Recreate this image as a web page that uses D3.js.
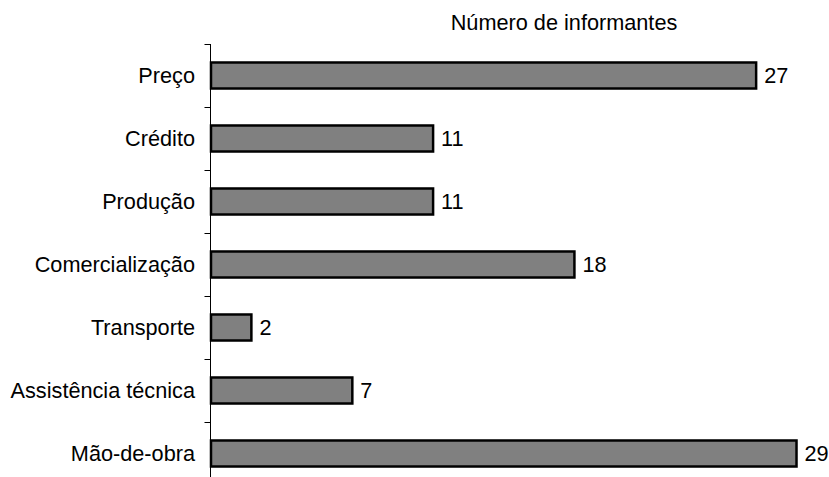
<!DOCTYPE html>
<html>
<head>
<meta charset="utf-8">
<script src="https://cdn.jsdelivr.net/npm/d3@7"></script>
<style>
  html, body { margin: 0; padding: 0; background: #fff; }
  svg { display: block; font-family: Arial, "Liberation Sans", sans-serif; }
</style>
</head>
<body>
<svg id="chart" width="829" height="477"></svg>
<script>
// Reasons cited by respondents
const categories = ["Preço", "Crédito", "Produção", "Comercialização", "Transporte", "Assistência técnica", "Mão-de-obra"];
const counts = [27, 11, 11, 18, 2, 7, 29];
const axisTitle = "Número de informantes";

const svg = d3.select("#chart");
const fontSize = 21.7;

const x = d3.scaleLinear().domain([0, 30]).range([211, 816.7]);
const y = d3.scaleBand().domain(categories).range([44, 485])
  .paddingInner(0.587).paddingOuter(0.2935);

// Category axis: vertical line with ticks at band boundaries
const step = y.step();
const axisG = svg.append("g");
axisG.append("line")
  .attr("x1", x(0) - 0.5).attr("x2", x(0) - 0.5)
  .attr("y1", y.range()[0]).attr("y2", y.range()[1])
  .attr("stroke", "#000").attr("stroke-width", 1);
d3.range(categories.length + 1).forEach(i => {
  const ty = Math.round(y.range()[0] + i * step) + 0.5;
  axisG.append("line")
    .attr("x1", x(0) - 6.5).attr("x2", x(0) - 0.5)
    .attr("y1", ty).attr("y2", ty)
    .attr("stroke", "#000").attr("stroke-width", 1);
});

// Bars
svg.append("g").selectAll("rect")
  .data(categories)
  .join("rect")
  .attr("x", x(0))
  .attr("y", d => y(d))
  .attr("width", (d, i) => x(counts[i]) - x(0))
  .attr("height", y.bandwidth())
  .attr("fill", "#808080")
  .attr("stroke", "#000")
  .attr("stroke-width", 2.5);

// Value labels
svg.append("g").selectAll("text")
  .data(categories)
  .join("text")
  .attr("x", (d, i) => x(counts[i]) + 8)
  .attr("y", d => y(d) + y.bandwidth() / 2 + 7.5)
  .attr("font-size", fontSize)
  .attr("fill", "#000")
  .text((d, i) => counts[i]);

// Category labels
svg.append("g").selectAll("text")
  .data(categories)
  .join("text")
  .attr("x", 195)
  .attr("y", d => y(d) + y.bandwidth() / 2 + 7.5)
  .attr("text-anchor", "end")
  .attr("font-size", fontSize)
  .attr("fill", "#000")
  .text(d => d);

// Axis title
svg.append("text")
  .attr("x", 564)
  .attr("y", 30)
  .attr("text-anchor", "middle")
  .attr("font-size", fontSize)
  .attr("fill", "#000")
  .text(axisTitle);
</script>
</body>
</html>
